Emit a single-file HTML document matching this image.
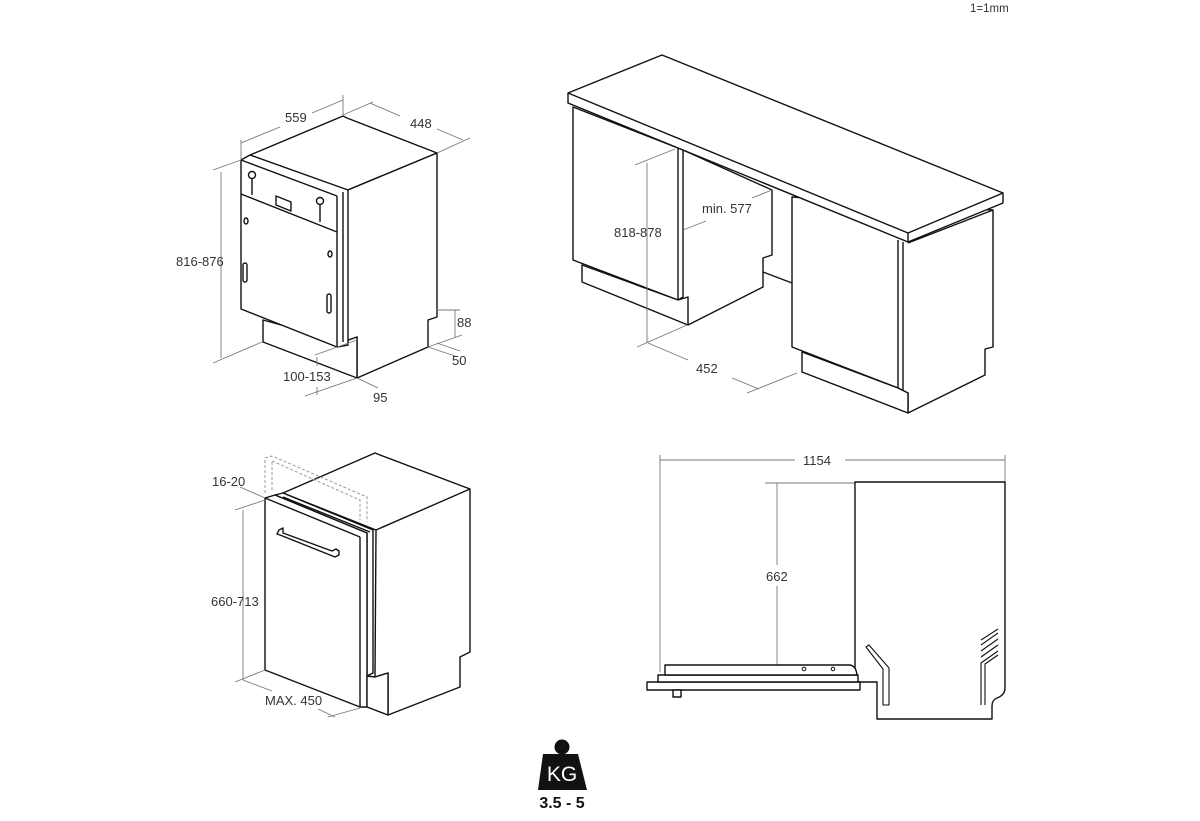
<!DOCTYPE html>
<html><head><meta charset="utf-8"><style>
html,body{margin:0;padding:0;background:#fff;}
svg{display:block;}
text{font-family:"Liberation Sans","DejaVu Sans",sans-serif;font-size:13px;fill:#333;}
.k{fill:none;stroke:#111;stroke-width:1.4;stroke-linejoin:round;}
.d{fill:none;stroke:#777;stroke-width:0.9;}
.f{fill:#fff;stroke:#111;stroke-width:1.4;stroke-linejoin:round;}
</style></head><body>
<svg width="1200" height="821" viewBox="0 0 1200 821" xmlns="http://www.w3.org/2000/svg">
<text x="970" y="12" style="font-size:11.5px">1=1mm</text>

<!-- ===== Top-left dishwasher ===== -->
<g>
<polygon class="f" points="250,155 343,116 347,118 437,153 343,192"/>
<polygon class="f" points="343,192 437,153 437,317 428,320 428,347 357,378 357,337 343,342"/>
<polygon class="f" points="263,320 343,342 357,337 357,378 263,342"/>
<polygon class="f" points="241,160 250,155 348,190 348,345 337,347 241,309"/>
<line class="k" x1="241" y1="160" x2="337" y2="196"/>
<line class="k" x1="337" y1="196" x2="337" y2="347"/>
<line class="k" x1="241" y1="194" x2="337" y2="232"/>
<line class="k" x1="343" y1="192" x2="343" y2="342"/>
<polygon class="k" points="276,196 291,202 291,211 276,205"/>
<circle class="k" cx="252" cy="175" r="3.5"/><line class="k" x1="252" y1="179" x2="252" y2="195"/>
<circle class="k" cx="320" cy="201" r="3.5"/><line class="k" x1="320" y1="205" x2="320" y2="222"/>
<ellipse class="k" cx="246" cy="221" rx="2" ry="3"/>
<ellipse class="k" cx="330" cy="254" rx="2" ry="3"/>
<rect class="k" x="243" y="263" width="4" height="19" rx="2"/>
<rect class="k" x="327" y="294" width="4" height="19" rx="2"/>
<!-- dims -->
<line class="d" x1="241" y1="140" x2="241" y2="160"/>
<line class="d" x1="343" y1="95" x2="343" y2="116"/>
<line class="d" x1="241" y1="143" x2="280" y2="127"/><line class="d" x1="312" y1="113" x2="343" y2="100"/>
<text x="285" y="122">559</text>
<line class="d" x1="343" y1="115" x2="373" y2="102"/>
<line class="d" x1="437" y1="153" x2="470" y2="138"/>
<line class="d" x1="370" y1="103" x2="400" y2="116"/>
<line class="d" x1="437" y1="129" x2="463" y2="140"/>
<text x="410" y="128">448</text>
<line class="d" x1="221" y1="172" x2="221" y2="358"/>
<line class="d" x1="213" y1="170" x2="241" y2="160"/>
<line class="d" x1="213" y1="363" x2="262" y2="342"/>
<text x="176" y="266">816-876</text>
<line class="d" x1="455" y1="310" x2="455" y2="337"/>
<line class="d" x1="436" y1="310" x2="460" y2="310"/>
<line class="d" x1="428" y1="347" x2="462" y2="335"/>
<text x="457" y="327">88</text>
<line class="d" x1="428" y1="347" x2="455" y2="356"/>
<line class="d" x1="437" y1="343" x2="460" y2="351"/>
<text x="452" y="365">50</text>
<line class="d" x1="317" y1="357" x2="317" y2="366"/><line class="d" x1="317" y1="387" x2="317" y2="395"/>
<text x="283" y="381">100-153</text>
<line class="d" x1="305" y1="396" x2="357" y2="378"/>
<line class="d" x1="357" y1="378" x2="378" y2="388"/>
<line class="d" x1="315" y1="355" x2="357" y2="340"/>
<text x="373" y="402">95</text>
</g>

<!-- ===== Top-right cabinets ===== -->
<g>
<polygon class="f" points="573,107 678,148 683,150 683,297 678,300 573,260"/>
<line class="k" x1="678" y1="148" x2="678" y2="300"/>
<polygon class="f" points="582,265 678,300 688,297 688,325 582,282"/>
<polyline class="k" points="683,150 772,190 772,255 763,258 763,287 688,325"/>
<line class="k" x1="763" y1="272" x2="792" y2="283"/>
<polygon class="f" points="792,197 993,210 993,347 985,349 985,375 908,413 908,393 898,388 792,347"/>
<line class="k" x1="898" y1="240" x2="898" y2="388"/><line class="k" x1="903" y1="242" x2="903" y2="390"/>
<polyline class="k" points="908,243 993,210"/>
<polygon class="f" points="802,352 898,388 908,393 908,413 802,372"/>
<!-- countertop -->
<polygon class="f" points="568,93 662,55 1003,193 1003,203 908,242 568,103"/>
<polyline class="k" points="568,93 908,233 1003,193"/>
<line class="k" x1="908" y1="233" x2="908" y2="242"/>
<!-- dims -->
<line class="d" x1="647" y1="163" x2="647" y2="343"/>
<line class="d" x1="635" y1="165" x2="675" y2="149"/>
<line class="d" x1="637" y1="347" x2="687" y2="325"/>
<text x="614" y="237">818-878</text>
<line class="d" x1="683" y1="230" x2="706" y2="221"/>
<line class="d" x1="752" y1="198" x2="772" y2="190"/>
<text x="702" y="213">min. 577</text>
<line class="d" x1="648" y1="343" x2="688" y2="360"/>
<line class="d" x1="732" y1="378" x2="759" y2="389"/>
<line class="d" x1="747" y1="393" x2="797" y2="373"/>
<text x="696" y="373">452</text>
</g>

<!-- ===== Bottom-left integrated ===== -->
<g>
<polygon class="f" points="283,493 375,453 380,455 470,489 470,652 460,657 460,687 388,715 388,673 375,677 376,530"/>
<line class="k" x1="376" y1="530" x2="470" y2="489"/>
<polygon class="f" points="275,495 283,493 373,530 373,673 367,676 367,533"/>
<line class="k" x1="283" y1="497" x2="370" y2="532"/>
<polygon class="f" points="265,498 275,495 367,533 367,707 360,707 265,670"/>
<line class="k" x1="360" y1="537" x2="360" y2="707"/>
<line class="k" x1="265" y1="498" x2="360" y2="537"/>
<polygon class="f" points="388,673 388,715 367,707 367,676 375,677"/>
<polygon class="f" points="279,530 283,528 283,533 332,551 336,549 339,551 339,555 335,557 280,535 277,534"/>
<polyline points="265,493 265,458 272,456 367,497 367,522" fill="none" stroke="#999" stroke-width="1" stroke-dasharray="3,2"/>
<polyline points="272,461 360,500 360,520" fill="none" stroke="#999" stroke-width="1" stroke-dasharray="3,2"/>
<line x1="272" y1="462" x2="272" y2="492" stroke="#999" stroke-width="1" stroke-dasharray="3,2"/>
<!-- dims -->
<line class="d" x1="243" y1="510" x2="243" y2="680"/>
<line class="d" x1="235" y1="510" x2="265" y2="500"/>
<line class="d" x1="235" y1="682" x2="265" y2="670"/>
<text x="211" y="606">660-713</text>
<line class="d" x1="240" y1="487" x2="265" y2="498"/>
<text x="212" y="486">16-20</text>
<line class="d" x1="243" y1="680" x2="272" y2="691"/>
<line class="d" x1="318" y1="709" x2="335" y2="717"/>
<line class="d" x1="328" y1="717" x2="360" y2="708"/>
<text x="265" y="705">MAX. 450</text>
</g>

<!-- ===== Bottom-right side view ===== -->
<g>
<line class="d" x1="660" y1="455" x2="660" y2="672"/>
<line class="d" x1="1005" y1="455" x2="1005" y2="482"/>
<line class="d" x1="660" y1="460" x2="795" y2="460"/>
<line class="d" x1="845" y1="460" x2="1005" y2="460"/>
<text x="803" y="465">1154</text>
<line class="d" x1="765" y1="483" x2="855" y2="483"/>
<line class="d" x1="777" y1="483" x2="777" y2="565"/><line class="d" x1="777" y1="586" x2="777" y2="682"/>
<text x="766" y="581">662</text>
<path class="f" d="M855,482 L1005,482 L1005,688 Q1005,695 997,698 Q992,700 992,706 L992,719 L877,719 L877,682 L860,682 L855,680 Z"/>
<rect class="f" x="647" y="682" width="213" height="8"/>
<rect class="f" x="658" y="675" width="200" height="7"/>
<path class="f" d="M665,665 L850,665 Q856,666 857,675 L665,675 Z"/>
<rect class="f" x="673" y="690" width="8" height="7"/>
<circle class="k" cx="804" cy="669" r="1.8" style="stroke-width:1"/>
<circle class="k" cx="833" cy="669" r="1.8" style="stroke-width:1"/>
<path class="k" d="M866,647 L883,669 L883,705 L889,705 L889,668 L869,645 Z" style="stroke-width:1.1"/>
<path class="k" d="M981,705 L981,663 L998,651 M985,705 L985,664 L998,655 M981,657 L998,645 M981,651 L998,639 M981,645 L998,633 M981,640 L998,629" style="stroke-width:1.1"/>
</g>

<!-- ===== Weight ===== -->
<circle cx="562" cy="747" r="7.5" fill="#111"/>
<polygon points="543,754 578,754 587,790 538,790" fill="#111"/>
<text x="562" y="781" text-anchor="middle" style="fill:#fff;font-size:21px">KG</text>
<text x="562" y="808" text-anchor="middle" style="fill:#111;font-size:16px;font-weight:bold">3.5 - 5</text>
</svg>
</body></html>
